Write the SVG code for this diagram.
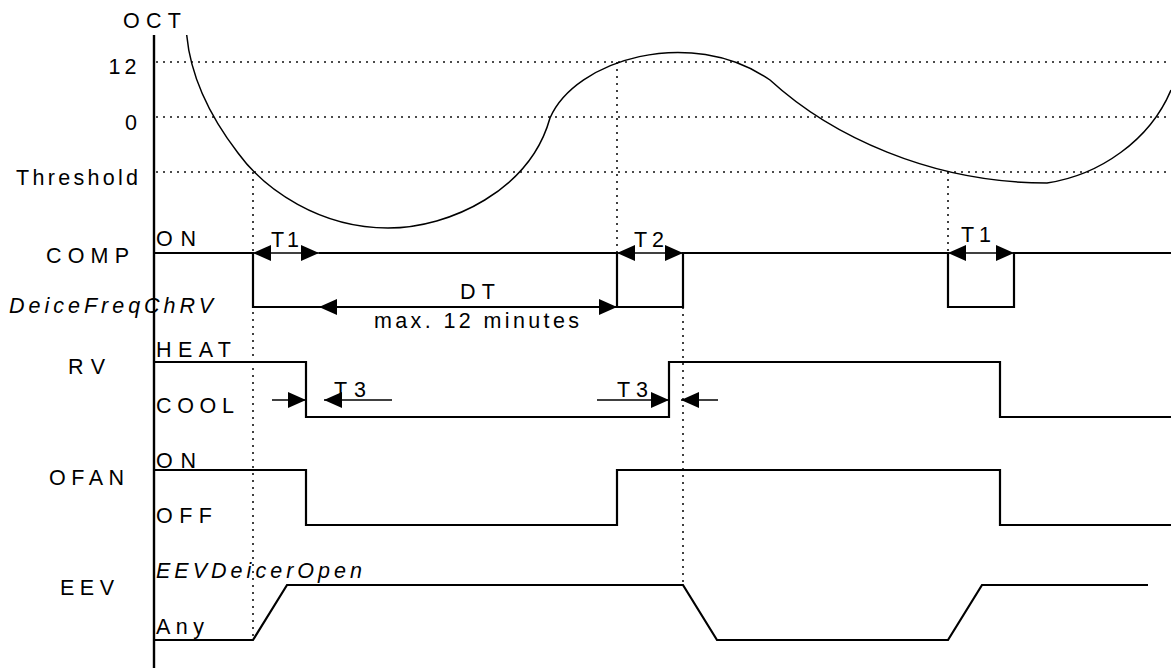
<svg xmlns="http://www.w3.org/2000/svg" width="1171" height="668" viewBox="0 0 1171 668">
<defs>
<style>
text{font-family:"Liberation Sans",Arial,sans-serif;font-size:21.5px;fill:#000}
.it{font-style:italic}
.wave{fill:none;stroke:#000;stroke-width:2.2}
.dot{fill:none;stroke:#111;stroke-width:1.6;stroke-dasharray:2 5}
.curve{fill:none;stroke:#000;stroke-width:1.5}
.a1{fill:none;stroke:#000;stroke-width:1.3;marker-end:url(#ah)}
.a2{fill:none;stroke:#000;stroke-width:1.3;marker-start:url(#ah);marker-end:url(#ah)}
.a2t{fill:none;stroke:#000;stroke-width:2.2;marker-start:url(#ah);marker-end:url(#ah)}
</style>
<marker id="ah" viewBox="0 0 18 16" refX="18" refY="8" markerWidth="18" markerHeight="16" markerUnits="userSpaceOnUse" orient="auto-start-reverse"><path d="M0,0 L18,8 L0,16 z" fill="#000"/></marker>
</defs>
<rect width="1171" height="668" fill="#fff"/>

<g id="grid">
<path class="dot" d="M156,62 H1171 M156,117 H1171 M156,172 H1171"/>
<path class="dot" d="M253,172 V640 M617,62 V253 M683,307 V585 M948,172 V253"/>
</g>

<g id="oct">
<text x="123" y="28" textLength="58" lengthAdjust="spacing">OCT</text>
<text x="108.5" y="74" textLength="28" lengthAdjust="spacing">12</text>
<text x="125" y="130">0</text>
<text x="16" y="185" textLength="122" lengthAdjust="spacing">Threshold</text>
<path class="curve" d="M186.7,35 C190,70 205,110 238,153 C265,190 320,228 388,228 C450,228 530,190 550,118 C575,60 690,25 770,80 C830,135 930,183 1047,183 C1100,175 1150,140 1171,90"/>
</g>

<g id="comp">
<text x="46" y="263" textLength="83" lengthAdjust="spacing">COMP</text>
<text x="156" y="246" textLength="40" lengthAdjust="spacing">ON</text>
<text class="it" x="9" y="313" textLength="204" lengthAdjust="spacing">DeiceFreqChRV</text>
<path class="wave" d="M154,253 H253 V307 H319 M319,253 H617 V307 H683 V253 H948 V307 H1014 V253 H1171"/>
<text x="271" y="247" textLength="28" lengthAdjust="spacing">T1</text>
<text x="634" y="247" textLength="30" lengthAdjust="spacing">T2</text>
<text x="961" y="242" textLength="30" lengthAdjust="spacing">T1</text>
<text x="460" y="299" textLength="35" lengthAdjust="spacing">DT</text>
<text x="374" y="328" textLength="205" lengthAdjust="spacing">max. 12 minutes</text>
</g>

<g id="rv">
<text x="68" y="374" textLength="37" lengthAdjust="spacing">RV</text>
<text x="156" y="357" textLength="75" lengthAdjust="spacing">HEAT</text>
<text x="156" y="413" textLength="78" lengthAdjust="spacing">COOL</text>
<path class="wave" d="M154,362 H306 V417 H669 V362 H1000 V417 H1171"/>
<text x="334" y="397" textLength="32" lengthAdjust="spacing">T3</text>
<text x="617" y="397" textLength="31" lengthAdjust="spacing">T3</text>
</g>

<g id="ofan">
<text x="49" y="485" textLength="75" lengthAdjust="spacing">OFAN</text>
<text x="156" y="468" textLength="40" lengthAdjust="spacing">ON</text>
<text x="156" y="523" textLength="56" lengthAdjust="spacing">OFF</text>
<path class="wave" d="M154,470 H306 V525 H617 V470 H1000 V525 H1171"/>
</g>

<g id="eev">
<text x="60" y="595" textLength="54" lengthAdjust="spacing">EEV</text>
<text class="it" x="156" y="578" textLength="206" lengthAdjust="spacing">EEVDeicerOpen</text>
<text x="156" y="634" textLength="48" lengthAdjust="spacing">Any</text>
<path class="wave" d="M154,640 H253 L287,585 H683 L717,640 H948 L982,585 H1148"/>
</g>

<g id="axis">
<path d="M154,35 V668" stroke="#000" stroke-width="2.4" fill="none"/>
</g>

<g id="connectors">
<path class="a2" d="M253,253 H319"/>
<path class="a2" d="M617,253 H683"/>
<path class="a2" d="M948,253 H1014"/>
<path class="a2t" d="M319,307 H617"/>
<path class="a1" d="M272,400 H306"/>
<path class="a1" d="M392,400 H324"/>
<path class="a1" d="M597,400 H669"/>
<path class="a1" d="M718,400 H681"/>
</g>
</svg>
